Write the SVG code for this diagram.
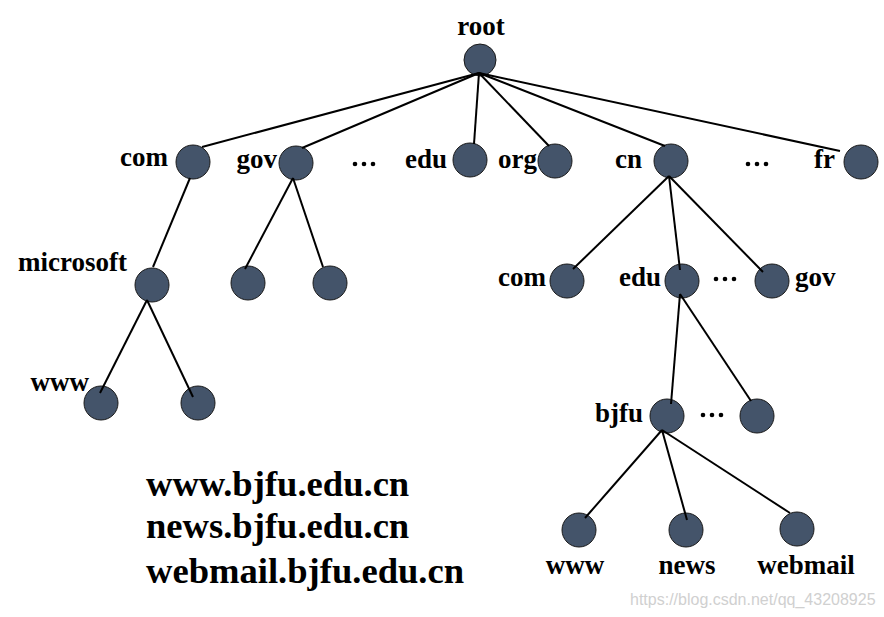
<svg xmlns="http://www.w3.org/2000/svg" width="884" height="617" viewBox="0 0 884 617">
<style>
.n{fill:#44546a;stroke:#1a1a1a;stroke-width:1}
.l{font-family:'Liberation Serif','Times New Roman','DejaVu Serif',serif;font-weight:700;font-size:27px;fill:#000}
.big{font-family:'Liberation Serif','Times New Roman','DejaVu Serif',serif;font-weight:700;font-size:36.6px;fill:#000}
.e line{stroke:#000;stroke-width:2}
.d{fill:#000}
.wm{font-family:'Liberation Sans',Arial,sans-serif;font-size:16px;fill:#d0d0d0}
</style>
<rect width="884" height="617" fill="#fff"/>
<g id="n-root"><circle class="n" cx="480" cy="60" r="16"/><text class="l" x="481" y="35" text-anchor="middle">root</text></g>
<g id="n-com"><circle class="n" cx="193" cy="162" r="17"/><text class="l" x="168" y="166" text-anchor="end">com</text></g>
<g id="n-gov"><circle class="n" cx="296" cy="163" r="17"/><text class="l" x="277" y="168" text-anchor="end">gov</text></g>
<g id="n-edu"><circle class="n" cx="470" cy="160" r="17"/><text class="l" x="447" y="168" text-anchor="end">edu</text></g>
<g id="n-org"><circle class="n" cx="555" cy="161" r="17"/><text class="l" x="537" y="168" text-anchor="end">org</text></g>
<g id="n-cn"><circle class="n" cx="671" cy="161" r="17"/><text class="l" x="642" y="168" text-anchor="end">cn</text></g>
<g id="n-fr"><circle class="n" cx="861" cy="162" r="17"/><text class="l" x="835" y="168" text-anchor="end">fr</text></g>
<g id="n-microsoft"><circle class="n" cx="152" cy="285" r="17"/><text class="l" x="127" y="271" text-anchor="end">microsoft</text></g>
<g id="n-gov1"><circle class="n" cx="248" cy="283" r="17"/></g>
<g id="n-gov2"><circle class="n" cx="330" cy="283" r="17"/></g>
<g id="n-ms-www"><circle class="n" cx="101" cy="403" r="17"/><text class="l" x="89" y="391" text-anchor="end">www</text></g>
<g id="n-ms-2"><circle class="n" cx="198" cy="403" r="17"/></g>
<g id="n-cn-com"><circle class="n" cx="567" cy="281" r="17"/><text class="l" x="546" y="286" text-anchor="end">com</text></g>
<g id="n-cn-edu"><circle class="n" cx="682" cy="281" r="17"/><text class="l" x="661" y="286" text-anchor="end">edu</text></g>
<g id="n-cn-gov"><circle class="n" cx="772" cy="281" r="17"/><text class="l" x="795" y="286">gov</text></g>
<g id="n-bjfu"><circle class="n" cx="667" cy="416" r="17"/><text class="l" x="643" y="422" text-anchor="end">bjfu</text></g>
<g id="n-edu-2"><circle class="n" cx="757" cy="416" r="17"/></g>
<g id="n-www"><circle class="n" cx="579" cy="530" r="17"/><text class="l" x="575" y="574" text-anchor="middle">www</text></g>
<g id="n-news"><circle class="n" cx="686" cy="530" r="17"/><text class="l" x="687" y="574" text-anchor="middle">news</text></g>
<g id="n-webmail"><circle class="n" cx="797" cy="529" r="17"/><text class="l" x="806" y="574" text-anchor="middle">webmail</text></g>
<g id="edges" class="e">
<line x1="479" y1="73" x2="202" y2="147"/>
<line x1="479" y1="73" x2="302" y2="148"/>
<line x1="479" y1="73" x2="474" y2="144"/>
<line x1="479" y1="73" x2="549" y2="146"/>
<line x1="479" y1="73" x2="665" y2="146"/>
<line x1="479" y1="73" x2="840" y2="151"/>
<line x1="190" y1="178" x2="153" y2="267"/>
<line x1="293" y1="178" x2="245" y2="269"/>
<line x1="293" y1="178" x2="323" y2="267"/>
<line x1="147" y1="300" x2="100" y2="393"/>
<line x1="147" y1="300" x2="193" y2="397"/>
<line x1="669" y1="176" x2="573" y2="269"/>
<line x1="669" y1="176" x2="680" y2="270"/>
<line x1="669" y1="176" x2="763" y2="272"/>
<line x1="680" y1="294" x2="671" y2="404"/>
<line x1="680" y1="294" x2="751" y2="401"/>
<line x1="662" y1="430" x2="585" y2="518"/>
<line x1="662" y1="430" x2="687" y2="520"/>
<line x1="662" y1="430" x2="790" y2="513"/>
</g>
<g id="dots" class="d">
<circle cx="355" cy="164" r="2.3"/><circle cx="364" cy="164" r="2.3"/><circle cx="373" cy="164" r="2.3"/>
<circle cx="748" cy="164" r="2.3"/><circle cx="757" cy="164" r="2.3"/><circle cx="766" cy="164" r="2.3"/>
<circle cx="716" cy="279" r="2.3"/><circle cx="725" cy="279" r="2.3"/><circle cx="734" cy="279" r="2.3"/>
<circle cx="703" cy="415" r="2.3"/><circle cx="712" cy="415" r="2.3"/><circle cx="721" cy="415" r="2.3"/>
</g>
<text class="big" x="146" y="496">www.bjfu.edu.cn</text>
<text class="big" x="146" y="538">news.bjfu.edu.cn</text>
<text class="big" x="146" y="583">webmail.bjfu.edu.cn</text>
<text class="wm" x="630" y="605">https://blog.csdn.net/qq_43208925</text>
</svg>
